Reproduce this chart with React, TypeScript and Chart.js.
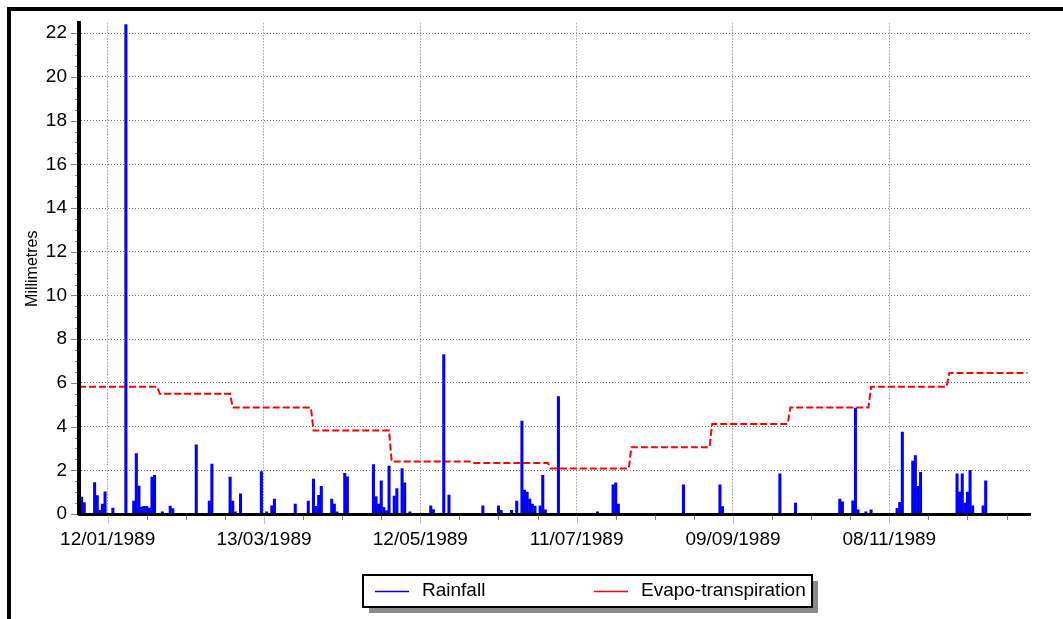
import React, { useEffect, useRef } from 'react';
import { Chart, registerables } from 'chart.js';

Chart.register(...registerables);

const FONT = '"Liberation Sans", Arial, Helvetica, sans-serif';

// Day index counted from 01/01/1989 (day 0)
const rainDays = [
  1, 2, 6, 7, 8, 9, 10, 13, 18, 21, 22, 23, 24, 25, 26, 27, 28, 29, 32, 35, 36,
  45, 50, 51, 58, 59, 60, 62, 70, 72, 74, 75, 83, 88, 90, 91, 92, 93, 97, 98, 99,
  102, 103, 113, 114, 115, 116, 117, 118, 119, 121, 122, 124, 125, 127, 135, 136,
  140, 142, 155, 161, 162, 166, 168, 170, 171, 172, 173, 174, 175, 177, 178, 179,
  184, 199, 205, 206, 207, 232, 246, 247, 269, 275, 292, 293, 297, 298, 299, 302,
  304, 314, 315, 316, 320, 321, 322, 323, 337, 338, 339, 340, 341, 342, 343, 347, 348,
];
const rainMm = [
  0.77, 0.52, 1.44, 0.84, 0.17, 0.45, 1.02, 0.27, 22.4, 0.59, 2.77, 1.28, 0.32, 0.35, 0.35, 0.27, 1.69, 1.77, 0.1, 0.36, 0.25,
  3.17, 0.59, 2.28, 1.69, 0.59, 0.1, 0.92, 1.94, 0.1, 0.37, 0.68, 0.45, 0.59, 1.6, 0.35, 0.85, 1.27, 0.68, 0.45, 0.1,
  1.86, 1.7, 2.26, 0.8, 0.45, 1.52, 0.3, 0.15, 2.19, 0.82, 1.16, 2.08, 1.43, 0.1, 0.37, 0.2,
  7.3, 0.87, 0.37, 0.37, 0.17, 0.17, 0.59, 4.25, 1.1, 1.0, 0.68, 0.45, 0.36, 0.37, 1.77, 0.19,
  5.37, 0.1, 1.33, 1.43, 0.45, 1.33, 1.33, 0.34, 1.84, 0.5, 0.68, 0.56, 0.6, 4.84, 0.19, 0.1,
  0.19, 0.26, 0.53, 3.75, 2.42, 2.67, 1.27, 1.91, 1.84, 1.0, 1.84, 0.5, 1.0, 2.0, 0.37, 0.37, 1.52,
];

const monthStartDays = [0, 31, 59, 90, 120, 151, 181, 212, 243, 273, 304, 334, 365];
const etMonthly = [5.82, 5.5, 4.87, 3.82, 2.4, 2.33, 2.08, 3.06, 4.12, 4.87, 5.82, 6.45];

const xTickDays = [11, 71, 131, 191, 251, 311];
const xTickLabels = ['12/01/1989', '13/03/1989', '12/05/1989', '11/07/1989', '09/09/1989', '08/11/1989'];
const yTickValues = [0, 2, 4, 6, 8, 10, 12, 14, 16, 18, 20, 22];
const seriesLabels = ['Rainfall', 'Evapo-transpiration'];
const seriesColors = ['#0000ff', '#ff0000'];

const GRID = '#6e6e6e';
const TICK = '#808080';

const framePlugin = {
  id: 'frame',
  beforeDraw(chart: any) {
    const { ctx } = chart;
    ctx.save();
    ctx.fillStyle = '#ffffff';
    ctx.fillRect(0, 0, chart.width, chart.height);
    ctx.fillStyle = '#000000';
    ctx.fillRect(7, 7, chart.width - 7, 4);
    ctx.fillRect(7, 7, 4, chart.height - 7);
    ctx.restore();
  },
};

const tickMarksPlugin = {
  id: 'tickMarks',
  afterDraw(chart: any) {
    const { ctx, chartArea: a } = chart;
    const x = chart.scales.x;
    const y = chart.scales.y;
    ctx.save();
    ctx.strokeStyle = TICK;
    ctx.lineWidth = 1;
    for (let d = xTickDays[0]; d <= x.max; d += 15) {
      const px = Math.round(x.getPixelForValue(d)) + 0.5;
      const major = xTickDays.indexOf(d) >= 0;
      ctx.setLineDash(major ? [1, 1] : []);
      ctx.beginPath();
      ctx.moveTo(px, a.bottom + 1.5);
      ctx.lineTo(px, a.bottom + (major ? 10 : 6));
      ctx.stroke();
    }
    ctx.setLineDash([]);
    for (let v = 0; v <= y.max + 1e-9; v += 0.5) {
      const py = Math.round(y.getPixelForValue(v)) + 0.5;
      const major = Math.abs(v - Math.round(v / 2) * 2) < 1e-9;
      ctx.beginPath();
      ctx.moveTo(a.left - 2, py);
      ctx.lineTo(a.left - (major ? 8 : 4), py);
      ctx.stroke();
    }
    ctx.restore();
  },
};

const legendPlugin = {
  id: 'customLegend',
  afterDraw(chart: any) {
    const { ctx } = chart;
    const bx = 363, by = 575, bw = 449, bh = 32;
    ctx.save();
    ctx.fillStyle = '#8c8c8c';
    ctx.fillRect(bx + 6, by + 6, bw, bh);
    ctx.fillStyle = '#ffffff';
    ctx.fillRect(bx, by, bw, bh);
    ctx.strokeStyle = '#000000';
    ctx.lineWidth = 2;
    ctx.strokeRect(bx, by, bw, bh);
    const items = chart.data.datasets.map((ds: any, i: number) => ({ label: ds.label, color: seriesColors[i] }));
    const starts = [375, 594];
    ctx.font = '19px ' + FONT;
    ctx.textBaseline = 'middle';
    ctx.textAlign = 'left';
    items.forEach((it: any, i: number) => {
      const sx = starts[i];
      ctx.strokeStyle = it.color;
      ctx.lineWidth = 1.5;
      ctx.beginPath();
      ctx.moveTo(sx, 591.5);
      ctx.lineTo(sx + 34, 591.5);
      ctx.stroke();
      ctx.fillStyle = '#000000';
      ctx.fillText(it.label, sx + 47, 591);
    });
    ctx.restore();
  },
};

export default function App() {
  const ref = useRef<HTMLCanvasElement | null>(null);
  useEffect(() => {
    if (!ref.current) return;
    const etPoints: { x: number; y: number }[] = [];
    for (let m = 0; m < etMonthly.length; m++) {
      etPoints.push({ x: monthStartDays[m], y: etMonthly[m] });
      etPoints.push({ x: monthStartDays[m + 1] - 1, y: etMonthly[m] });
    }
    const rainPoints = rainDays.map((d, i) => ({ x: d, y: rainMm[i] }));
    const chart = new Chart(ref.current, {
      type: 'line',
      data: {
        datasets: [
          {
            type: 'bar',
            label: seriesLabels[0],
            data: rainPoints as any,
            backgroundColor: seriesColors[0],
            borderWidth: 0,
            barThickness: 2.4,
            order: 0,
          } as any,
          {
            type: 'line',
            label: seriesLabels[1],
            data: etPoints as any,
            borderColor: seriesColors[1],
            borderWidth: 2,
            borderDash: [7, 3],
            pointRadius: 0,
            tension: 0,
            fill: false,
            order: 1,
          } as any,
        ],
      },
      options: {
        responsive: false,
        animation: false,
        devicePixelRatio: 1,
        layout: { padding: { left: 0, top: 20, right: 33, bottom: 0 } },
        plugins: { legend: { display: false }, tooltip: { enabled: false } },
        scales: {
          x: {
            type: 'linear',
            min: 0,
            max: 365,
            offset: false,
            afterBuildTicks: (s: any) => {
              s.ticks = xTickDays.map((v) => ({ value: v }));
            },
            afterFit: (s: any) => {
              s.height = 105;
            },
            ticks: {
              autoSkip: false,
              maxRotation: 0,
              minRotation: 0,
              padding: 14,
              color: '#000',
              font: { family: FONT, size: 19 },
              callback: (v: any) => {
                const i = xTickDays.indexOf(Number(v));
                return i >= 0 ? xTickLabels[i] : '';
              },
            },
            grid: { color: GRID, lineWidth: 1, drawTicks: false, offset: false },
            border: { display: true, color: '#000', width: 3, dash: [1, 2], z: 1 },
          },
          y: {
            type: 'linear',
            min: 0,
            max: 22.45,
            afterBuildTicks: (s: any) => {
              s.ticks = yTickValues.map((v) => ({ value: v }));
            },
            afterFit: (s: any) => {
              s.width = 79;
            },
            title: {
              display: true,
              text: 'Millimetres',
              color: '#000',
              font: { family: FONT, size: 16 },
              padding: { top: 23, bottom: 0 },
            },
            ticks: {
              padding: 12,
              color: '#000',
              font: { family: FONT, size: 19 },
              callback: (v: any) => String(v),
            },
            grid: {
              color: (c: any) => (c.tick && c.tick.value === 0 ? 'rgba(0,0,0,0)' : GRID),
              lineWidth: 1,
              drawTicks: false,
            },
            border: { display: true, color: '#000', width: 4, dash: [1, 2], z: 1 },
          },
        },
      },
      plugins: [framePlugin, tickMarksPlugin, legendPlugin],
    });
    return () => chart.destroy();
  }, []);
  return (
    <div style={{ position: 'fixed', left: 0, top: 0, width: 1063, height: 619 }}>
      <canvas ref={ref} width={1063} height={619} style={{ display: 'block', width: 1063, height: 619 }} />
    </div>
  );
}
